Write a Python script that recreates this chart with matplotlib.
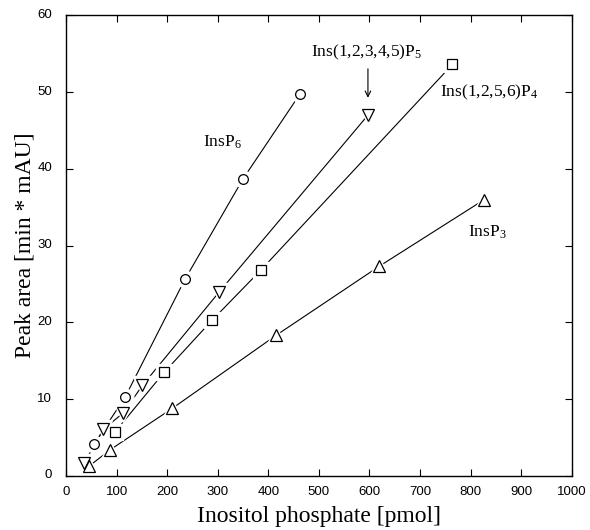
import matplotlib
matplotlib.use("Agg")
import matplotlib.pyplot as plt
import matplotlib.transforms as mtransforms

# data (pmol, min*mAU)
insp6_x = [56, 117, 235, 350, 462]
insp6_y = [4.2, 10.3, 25.6, 38.7, 49.7]

insp5_x = [36, 74, 113, 151, 302, 597]
insp5_y = [1.7, 6.1, 8.2, 11.8, 23.9, 47.0]

insp4_x = [97, 194, 289, 385, 764]
insp4_y = [5.75, 13.5, 20.3, 26.8, 53.6]

insp3_x = [46, 87, 210, 415, 619, 827]
insp3_y = [1.3, 3.4, 8.8, 18.3, 27.3, 36.0]

xticks = [0, 100, 200, 300, 400, 500, 600, 700, 800, 900, 1000]
yticks = [0, 10, 20, 30, 40, 50, 60]

serif = "Liberation Serif"
plt.rcParams["mathtext.fontset"] = "custom"
plt.rcParams["mathtext.rm"] = serif
plt.rcParams["mathtext.it"] = serif + ":italic"

fig = plt.figure(figsize=(5.9, 5.3), dpi=100)
ax = fig.add_axes([0.112, 0.102, 0.857, 0.869])

series = [
    (insp6_x, insp6_y, "o", 7),
    (insp5_x, insp5_y, "v", 8),
    (insp4_x, insp4_y, "s", 7),
    (insp3_x, insp3_y, "^", 8),
]
for xs, ys, m, ms in series:
    ax.plot(xs, ys, "-", color="black", lw=0.8, zorder=1)
    # white halo so lines stop short of the symbols
    ax.plot(xs, ys, m, ms=ms + 5, color="white", mec="white", zorder=2)
    ax.plot(xs, ys, m, ms=ms, mfc="white", mec="black", mew=0.9, zorder=3)

lab_kw = dict(family=serif, fontsize=12.5, va="center")
ax.text(270, 43.5, "InsP$_6$", **lab_kw)
ax.text(594, 55.2, "Ins(1,2,3,4,5)P$_5$", ha="center", **lab_kw)
ax.annotate("", xy=(597, 48.9), xytext=(597, 53.4),
            arrowprops=dict(arrowstyle="->", color="black", lw=0.8))
ax.text(740, 50.0, "Ins(1,2,5,6)P$_4$", **lab_kw)
ax.text(795, 31.7, "InsP$_3$", **lab_kw)

ax.set_xlim(0, 1000)
ax.set_ylim(0, 60)
ax.set_xticks(xticks)
ax.set_yticks(yticks)
ax.tick_params(direction="in", top=True, right=True, length=5, width=0.8,
               labelsize=9.5)
ax.tick_params(axis="y", pad=10)
ax.tick_params(axis="x", pad=7)
shift = mtransforms.ScaledTranslation(0, 1.5 / 72, fig.dpi_scale_trans)
for lab in ax.get_yticklabels():
    lab.set_transform(lab.get_transform() + shift)
for lab in ax.get_xticklabels() + ax.get_yticklabels():
    lab.set_family("Liberation Sans")
for s in ax.spines.values():
    s.set_linewidth(1.0)

ax.set_xlabel("Inositol phosphate [pmol]", family=serif, fontsize=17,
              labelpad=6)
ax.set_ylabel("Peak area [min * mAU]", family=serif, fontsize=17,
              labelpad=1)

fig.savefig("out.png", dpi=100)
